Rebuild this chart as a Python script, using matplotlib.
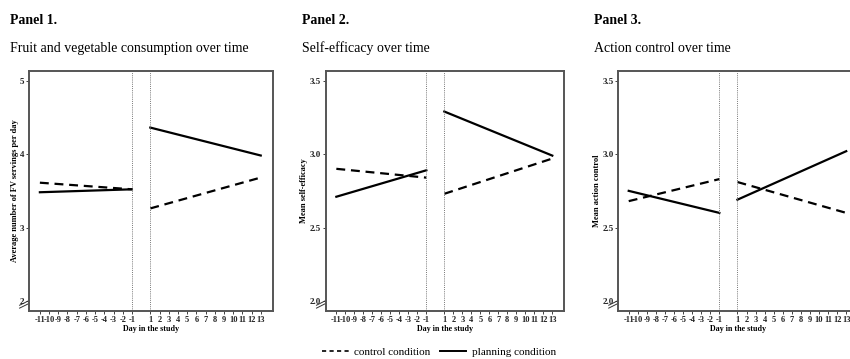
import matplotlib
matplotlib.use('Agg')
import matplotlib.pyplot as plt
from matplotlib.lines import Line2D

plt.rcParams['font.family'] = ['Liberation Serif', 'DejaVu Serif']

# Days in the study (no day 0)
days_pre = [-11, -1]
days_post = [1, 13]
tick_days = list(range(-11, 0)) + list(range(1, 14))

panel_titles = ["Panel 1.", "Panel 2.", "Panel 3."]
panel_subtitles = ["Fruit and vegetable consumption over time",
                   "Self-efficacy over time",
                   "Action control over time"]
y_labels = ["Average number of FV servings per day",
            "Mean self-efficacy",
            "Mean action control"]
y_ticks = [[2, 3, 4, 5], [2.0, 2.5, 3.0, 3.5], [2.0, 2.5, 3.0, 3.5]]
y_ticklabels = [["2", "3", "4", "5"],
                ["2.0", "2.5", "3.0", "3.5"],
                ["2.0", "2.5", "3.0", "3.5"]]
y_limits = [(1.864, 5.13), (1.932, 3.566), (1.932, 3.566)]

# fitted values at start/end of each phase
control_pre = [[3.61, 3.52], [2.90, 2.84], [2.68, 2.83]]
control_post = [[3.26, 3.68], [2.73, 2.97], [2.81, 2.60]]
planning_pre = [[3.48, 3.52], [2.71, 2.89], [2.75, 2.60]]
planning_post = [[4.36, 3.98], [3.29, 2.99], [2.69, 3.02]]

fig = plt.figure(figsize=(8.5, 3.59), dpi=100)

# axes placement in pixels (left, right)
boxes = [(29.3, 272.7), (326, 564), (618.3, 858)]
title_x = [10, 302, 594]
W, H = 850, 359
bottom_px, top_px = 311, 71

spine_col = '#555555'
for i in range(3):
    l, r = boxes[i]
    ax = fig.add_axes([l / W, (H - bottom_px) / H, (r - l) / W, (bottom_px - top_px) / H])

    ax.plot(days_pre, control_pre[i], color='black', lw=1.6, ls=(0, (4, 2.6)))
    ax.plot(days_post, control_post[i], color='black', lw=1.6, ls=(0, (4, 2.6)))
    ax.plot(days_pre, planning_pre[i], color='black', lw=1.6)
    ax.plot(days_post, planning_post[i], color='black', lw=1.6)

    ax.axvline(-1, color='#777777', lw=0.7, ls=(0, (1, 1.2)))
    ax.axvline(1, color='#777777', lw=0.7, ls=(0, (1, 1.2)))

    ax.set_xlim(-12.15, 14.3)
    ax.set_ylim(*y_limits[i])
    ax.set_xticks(tick_days)
    ax.set_xticklabels([str(d) for d in tick_days], fontsize=6, fontweight='bold')
    ax.set_yticks(y_ticks[i])
    ax.set_yticklabels(y_ticklabels[i], fontsize=6.5, fontweight='bold')
    ax.tick_params(axis='both', length=2.5, width=0.6, pad=1, colors='#222222')
    ax.set_xlabel("Day in the study", fontsize=5.8, fontweight='bold', labelpad=1)
    ax.set_ylabel(y_labels[i], fontsize=6, fontweight='bold', labelpad=1)

    for s in ax.spines.values():
        s.set_color(spine_col)
        s.set_linewidth(1.4)

    # axis break marks
    for dy in (0.0, 0.012):
        ax.plot([-0.04, 0.0], [0.012 + dy, 0.032 + dy], transform=ax.transAxes,
                color='#333333', lw=0.7, clip_on=False)

    fig.text(title_x[i] / W, 1 - 24 / H, panel_titles[i], fontsize=10,
             fontweight='bold', va='baseline', ha='left')
    fig.text(title_x[i] / W, 1 - 52 / H, panel_subtitles[i], fontsize=10,
             va='baseline', ha='left')

handles = [Line2D([0], [0], color='black', lw=1.2, ls=(0, (2.5, 2))),
           Line2D([0], [0], color='black', lw=1.4)]
fig.legend(handles, ["control condition", "planning condition"], ncol=2,
           loc='center', bbox_to_anchor=(439 / W, 1 - 352 / H), frameon=False,
           fontsize=8, handlelength=2.4, handletextpad=0.5, columnspacing=0.8,
           borderpad=0)

fig.savefig('out.png', dpi=100)
